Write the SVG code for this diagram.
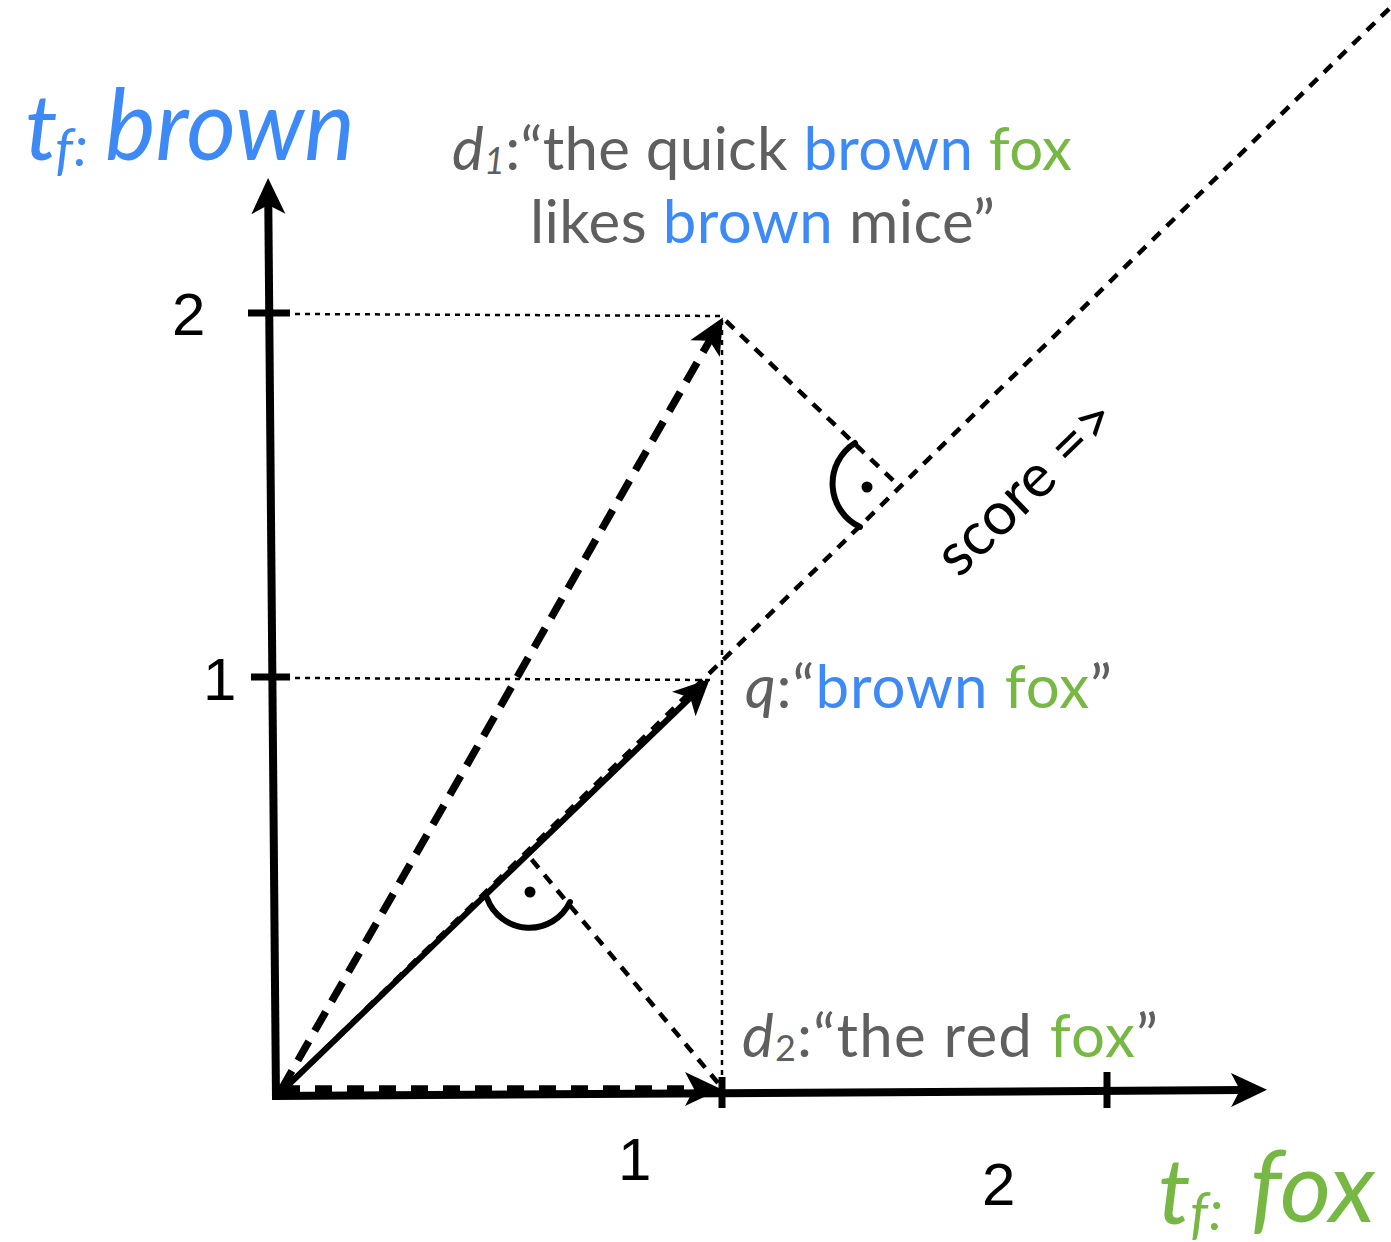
<svg xmlns="http://www.w3.org/2000/svg" width="1391" height="1242" viewBox="0 0 1391 1242">
  <style>
    .axis { stroke: #000; stroke-width: 8; fill: none; }
    .tick { stroke: #000; stroke-width: 7; fill: none; }
    .guide { stroke: #000; stroke-width: 2.5; stroke-dasharray: 5 5; fill: none; }
    .perp { stroke: #000; stroke-width: 4.5; stroke-dasharray: 11 9; fill: none; }
    .vecdash { stroke: #000; stroke-width: 7.5; stroke-dasharray: 22 12; fill: none; }
    .vecsolid { stroke: #000; stroke-width: 6; fill: none; }
    .arc { stroke: #000; stroke-width: 6; fill: none; stroke-linecap: round; }
    .num { font-family: "Liberation Sans", Arial, sans-serif; font-size: 60px; fill: #000; }
    .lbl { font-family: Lato, "Open Sans", sans-serif; fill: #5f5f5f; }
    .blue { fill: #3d8af7; }
    .green { fill: #76b843; }
    .it { font-style: italic; }
  </style>
  <defs>
    <marker id="ah" markerUnits="userSpaceOnUse" markerWidth="40" markerHeight="40" refX="10" refY="20" orient="auto" overflow="visible">
      <path d="M0,3 L36,20 L0,37 L9,20 Z" fill="#000"/>
    </marker>
  </defs>

  <rect width="1391" height="1242" fill="#fff"/>

  <g id="connectors">
    <line class="guide" x1="295" y1="314" x2="722" y2="316"/>
    <line class="guide" x1="722" y1="320" x2="722" y2="1086"/>
    <line class="guide" x1="295" y1="678" x2="712" y2="680"/>
    <line class="perp" x1="280" y1="1093" x2="1395" y2="3"/>
    <line class="perp" x1="726" y1="321" x2="900" y2="487"/>
    <line class="perp" x1="718" y1="1083" x2="527" y2="854"/>
  </g>

  <g id="axis-y">
    <line class="axis" x1="276" y1="1100" x2="268.3" y2="204" marker-end="url(#ah)"/>
    <line class="tick" x1="248" y1="313" x2="290" y2="313"/>
    <line class="tick" x1="251" y1="677" x2="290" y2="677"/>
  </g>
  <g id="axis-x">
    <line class="axis" x1="272" y1="1096" x2="1241" y2="1090" marker-end="url(#ah)"/>
    <line class="tick" x1="1107" y1="1072" x2="1107" y2="1108"/>
    <line class="tick" x1="722" y1="1077" x2="722" y2="1108"/>
  </g>

  <g id="vec-d2">
    <line class="vecdash" style="stroke-dasharray:17 15" x1="283" y1="1089" x2="695" y2="1089" marker-end="url(#ah)"/>
  </g>
  <g id="vec-d1">
    <line class="vecdash" x1="281" y1="1090" x2="710" y2="340" marker-end="url(#ah)"/>
  </g>
  <g id="vec-q">
    <line class="vecsolid" x1="280" y1="1093" x2="691" y2="697" marker-end="url(#ah)"/>
  </g>

  <g id="right-angle-1">
    <path class="arc" d="M855,443 A48,48 0 0 0 860,527"/>
    <circle cx="867" cy="487" r="5.5" fill="#000"/>
  </g>
  <g id="right-angle-2">
    <path class="arc" d="M487,898 A45,45 0 0 0 570,902"/>
    <circle cx="530" cy="892" r="5.5" fill="#000"/>
  </g>

  <g id="tick-labels">
    <text class="num" x="172" y="335">2</text>
    <text class="num" x="203" y="700">1</text>
    <text class="num" x="618" y="1180">1</text>
    <text class="num" x="982" y="1205">2</text>
  </g>

  <g id="label-y-axis" class="lbl blue it">
    <text x="25" y="160" font-size="92" class="blue">t</text>
    <text x="55" y="168" font-size="56" class="blue">f</text>
    <text x="74" y="166" font-size="56" class="blue">:</text>
    <text x="105" y="160" font-size="100" class="blue" textLength="250" lengthAdjust="spacingAndGlyphs">brown</text>
  </g>

  <g id="label-x-axis" class="lbl green it">
    <text x="1158" y="1224" font-size="92" class="green">t</text>
    <text x="1190" y="1232" font-size="56" class="green">f</text>
    <text x="1209" y="1230" font-size="56" class="green">:</text>
    <text x="1250" y="1222" font-size="100" class="green" textLength="125" lengthAdjust="spacingAndGlyphs">fox</text>
  </g>

  <g id="label-d1" class="lbl" font-size="60">
    <text y="170" textLength="620" lengthAdjust="spacing"><tspan x="452" class="it">d</tspan><tspan class="it" font-size="36" dy="4">1</tspan><tspan dy="-4">:“the quick </tspan><tspan class="blue">brown</tspan> <tspan class="green">fox</tspan></text>
    <text x="530" y="243" textLength="465" lengthAdjust="spacing">likes <tspan class="blue">brown</tspan> mice”</text>
  </g>

  <g id="label-q" class="lbl" font-size="60">
    <text x="745" y="708" textLength="367" lengthAdjust="spacing"><tspan class="it">q</tspan>:“<tspan class="blue">brown</tspan> <tspan class="green">fox</tspan>”</text>
  </g>

  <g id="label-d2" class="lbl" font-size="60">
    <text y="1057" textLength="416" lengthAdjust="spacing"><tspan x="742" class="it">d</tspan><tspan font-size="36" dy="4">2</tspan><tspan dy="-4">:“the red </tspan><tspan class="green">fox</tspan>”</text>
  </g>

  <g id="label-score">
    <text x="959" y="579" transform="rotate(-44 959 579)" font-family="Lato, 'Open Sans', sans-serif" font-size="60" fill="#000">score =&gt;</text>
  </g>
</svg>
